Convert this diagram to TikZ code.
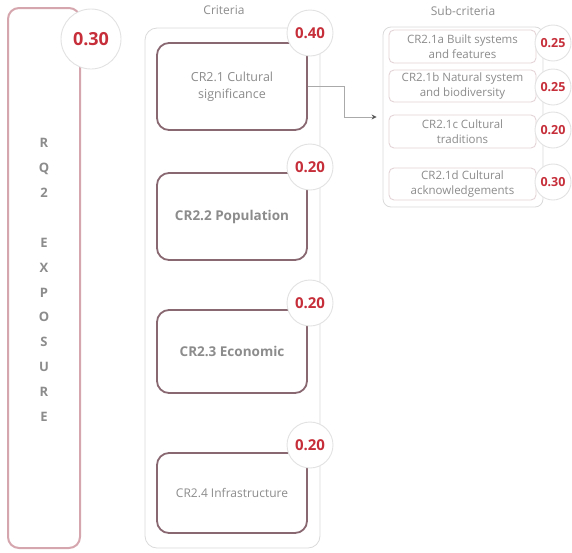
\documentclass[tikz,border=0pt]{standalone}
\usepackage{fontspec}
\setmainfont{Open Sans}
\usetikzlibrary{arrows.meta}

\definecolor{txtgrey}{RGB}{140,140,140}
\definecolor{wred}{RGB}{198,47,58}
\definecolor{pinkline}{RGB}{214,166,174}
\definecolor{mauve}{RGB}{138,104,114}
\definecolor{ringgrey}{RGB}{226,226,226}
\definecolor{panelgrey}{RGB}{218,218,218}
\definecolor{subline}{RGB}{228,212,215}
\definecolor{connline}{RGB}{170,170,170}

\tikzset{
  panel/.style={draw=panelgrey, line width=0.8pt, rounded corners=12pt, fill=white},
  rqbox/.style={draw=pinkline, line width=2pt, rounded corners=11pt, fill=white,
    minimum width=72pt, minimum height=540pt},
  critbox/.style={draw=mauve, line width=1.8pt, rounded corners=12pt, fill=white,
    minimum width=150pt, text=txtgrey, align=center, inner sep=0pt},
  subbox/.style={draw=subline, line width=0.9pt, rounded corners=5pt, fill=white,
    minimum width=147pt, text=txtgrey, align=center, inner sep=0pt,
    font=\fontsize{11.5}{14.5}\selectfont},
  weight/.style={circle, draw=ringgrey, line width=0.9pt, fill=white, text=wred,
    font=\bfseries, inner sep=0pt},
  heading/.style={text=txtgrey, font=\fontsize{12}{14}\selectfont},
  conn/.style={draw=connline, line width=0.8pt},
}

\begin{document}
\begin{tikzpicture}[x=1pt, y=-1pt]
\useasboundingbox (0,0) rectangle (572,552);

% research question column
\node[rqbox] (rq) at (44,278) {};
\node[text=txtgrey, align=center, font=\fontsize{13}{24.9}\selectfont\bfseries]
  (rqtext) at (44,280) {R\\Q\\2\\[24.9pt]E\\X\\P\\O\\S\\U\\R\\E};
\node[weight, minimum size=60pt, font=\fontsize{18}{20}\selectfont\bfseries]
  (wrq) at (91,39) {0.30};

% criteria panel
\node[heading] (crittitle) at (224,10) {Criteria};
\node[panel, minimum width=175pt, minimum height=520pt] (crit) at (232.5,288) {};

\node[critbox, minimum height=87pt, font=\fontsize{12.5}{17}\selectfont]
  (c1) at (232,86.5) {CR2.1 Cultural\\significance};
\node[critbox, minimum height=87pt, font=\fontsize{13.5}{16}\selectfont\bfseries]
  (c2) at (232,216.5) {CR2.2 Population};
\node[critbox, minimum height=83pt, font=\fontsize{13.5}{16}\selectfont\bfseries]
  (c3) at (232,351.5) {CR2.3 Economic};
\node[critbox, minimum height=80pt, font=\fontsize{12}{16}\selectfont]
  (c4) at (232,493) {CR2.4 Infrastructure};

\node[weight, minimum size=46pt, font=\fontsize{15}{17}\selectfont\bfseries] (w1) at (310,33) {0.40};
\node[weight, minimum size=46pt, font=\fontsize{15}{17}\selectfont\bfseries] (w2) at (310,167) {0.20};
\node[weight, minimum size=46pt, font=\fontsize{15}{17}\selectfont\bfseries] (w3) at (310,303) {0.20};
\node[weight, minimum size=46pt, font=\fontsize{15}{17}\selectfont\bfseries] (w4) at (310,445) {0.20};

% sub-criteria panel
\node[heading] (subtitle) at (463,11) {Sub-criteria};
\node[panel, rounded corners=8pt, minimum width=160pt, minimum height=180pt] (sub) at (463,117) {};

\node[subbox, minimum height=33pt] (s1) at (462.5,46.5) {CR2.1a Built systems\\and features};
\node[subbox, minimum height=32pt] (s2) at (462.5,86) {CR2.1b Natural system\\and biodiversity};
\node[subbox, minimum height=33pt] (s3) at (462.5,131.5) {CR2.1c Cultural\\traditions};
\node[subbox, minimum height=32pt] (s4) at (462.5,184) {CR2.1d Cultural\\acknowledgements};

\node[weight, minimum size=36pt, font=\fontsize{12.5}{14}\selectfont\bfseries] (v1) at (553,43) {0.25};
\node[weight, minimum size=36pt, font=\fontsize{12.5}{14}\selectfont\bfseries] (v2) at (553,87) {0.25};
\node[weight, minimum size=36pt, font=\fontsize{12.5}{14}\selectfont\bfseries] (v3) at (553,130) {0.20};
\node[weight, minimum size=36pt, font=\fontsize{12.5}{14}\selectfont\bfseries] (v4) at (553,182) {0.30};

% link from CR2.1 to its sub-criteria
\draw[conn, -{Stealth[length=5pt, width=5pt, fill=gray!70!black, color=gray!70!black]},
  shorten >=6pt] (c1.east) -- ++(36,0) |- (sub.west);
\end{tikzpicture}
\end{document}
